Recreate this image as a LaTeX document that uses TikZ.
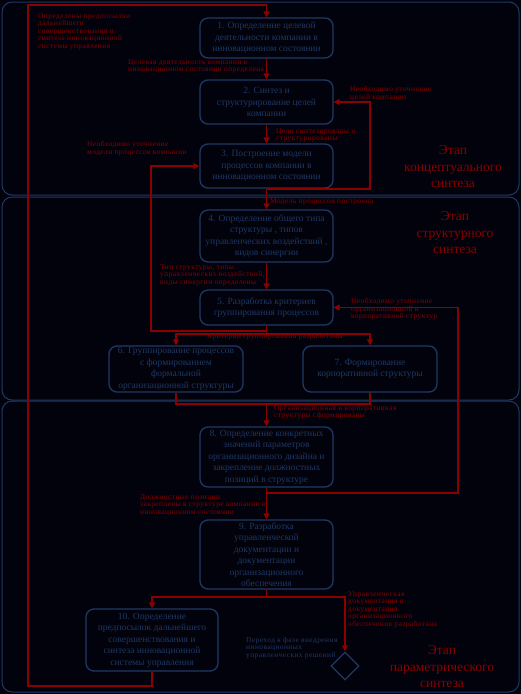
\documentclass[tikz,border=0pt]{standalone}
\usepackage{fontspec}
\setmainfont{Liberation Serif}
\newfontfamily\lblfont[LetterSpace=6]{Liberation Serif}
\usetikzlibrary{arrows.meta,shapes.geometric}
\definecolor{bg}{RGB}{2,2,12}
\definecolor{navy}{RGB}{31,56,100}
\definecolor{dred}{RGB}{139,0,0}
\begin{document}
\begin{tikzpicture}[x=1pt,y=-1pt,
  box/.style={draw=navy, line width=1.3pt, rounded corners=8pt, text=navy,
    font=\fontsize{9.5}{11.5}\selectfont, align=center, inner sep=1pt},
  lbl/.style={text=dred, font=\lblfont\fontsize{7.4}{7.6}\selectfont, align=left,
    anchor=north west, inner sep=0pt},
  stage/.style={text=dred, font=\fontsize{13.5}{16.5}\selectfont, align=center, inner sep=0pt},
  frame/.style={draw=navy, line width=1pt, rounded corners=10pt},
  conn/.style={draw=dred, line width=1.4pt},
  arr/.style={conn, -{Triangle[width=6pt,length=6pt]}}]
\useasboundingbox (0,0) rectangle (521,694);
\fill[bg] (0,0) rectangle (521,694);
% stage frames
\draw[frame] (2,2) rectangle (519,195);
\draw[frame] (2,197) rectangle (519,400);
\draw[frame] (2,401) rectangle (519,692);
% stage labels
\node[stage] (s1) at (453,167) {Этап\\концептуального\\синтеза};
\node[stage] (s2) at (455,233) {Этап\\структурного\\синтеза};
\node[stage] (s3) at (442,667) {Этап\\параметрического\\синтеза};
% boxes
\node[box, minimum width=133pt, minimum height=40pt] (b1) at (266.5,38)
  {1. Определение целевой\\деятельности компании в\\инновационном состоянии};
\node[box, minimum width=133pt, minimum height=44pt] (b2) at (266.5,102)
  {2. Синтез и\\структурирование целей\\компании};
\node[box, minimum width=133pt, minimum height=44pt] (b3) at (266.5,166)
  {3. Построение модели\\процессов компании в\\инновационном состоянии};
\node[box, minimum width=133pt, minimum height=52pt] (b4) at (266.5,236)
  {4. Определение общего типа\\структуры , типов\\управленческих воздействий ,\\видов синергии};
\node[box, minimum width=133pt, minimum height=35pt] (b5) at (266.5,307.5)
  {5. Разработка критериев\\группирования процессов};
\node[box, minimum width=134pt, minimum height=46pt] (b6) at (176,369)
  {6. Группирование процессов\\с формированием\\формальной\\организационной структуры};
\node[box, minimum width=134pt, minimum height=46pt] (b7) at (370,369)
  {7. Формирование\\корпоративной структуры};
\node[box, minimum width=133pt, minimum height=60pt] (b8) at (266.5,457)
  {8. Определение конкретных\\значений параметров\\организационного дизайна и\\закрепление должностных\\позиций в структуре};
\node[box, minimum width=133pt, minimum height=69pt] (b9) at (266.5,554.5)
  {9. Разработка\\управленческой\\документации и\\документации\\организационного\\обеспечения};
\node[box, minimum width=132pt, minimum height=62pt] (b10) at (152,640)
  {10. Определение\\предпосылок дальнейшего\\совершенствования и\\синтеза инновационной\\системы управления};
\node[draw=navy, line width=1.3pt, diamond, minimum width=28pt, minimum height=28pt, inner sep=0pt] (dia) at (345,666) {};
% junction coordinates
\coordinate (j3) at (266.5,189);
\coordinate (j5a) at (266.5,331);
\coordinate (j5b) at (266.5,334);
\coordinate (j7) at (266.5,404);
\coordinate (j8) at (266.5,493);
\coordinate (j9) at (266.5,597);
\coordinate (c10) at (152,686);
\coordinate (cbl) at (28,686);
\coordinate (ctl) at (28,5);
\coordinate (r3) at (370,189);
\coordinate (l5) at (151,331);
\coordinate (r8) at (458,493);
\coordinate (m6) at (176,404);
\coordinate (m7) at (370,404);
% connectors
\draw[arr] (b1) -- (b2);
\draw[arr] (b2) -- (b3);
\draw[arr] (b3) -- (b4);
\draw[arr] (j3) -- (r3) |- (b2.east);
\draw[arr] (b4) -- (b5);
\draw[conn] (b5.south) -- (j5b);
\draw[arr] (j5b) -| (b6.north);
\draw[arr] (j5b) -| (b7.north);
\draw[arr] (j5a) -- (l5) |- (b3.west);
\draw[conn] (b6.south) -- (m6) -- (m7) -- (b7.south);
\draw[arr] (j7) -- (b8.north);
\draw[arr] (b8) -- (b9);
\draw[arr] (j8) -- (r8) |- (b5.east);
\draw[conn] (b9.south) -- (j9);
\draw[arr] (j9) -| (b10.north);
\draw[arr] (j9) -| (dia.north);
\draw[arr] (b10.south) -- (c10) -- (cbl) -- (ctl) -| (b1.north);
% labels
\node[lbl] (t0) at (38,13) {Определены предпосылки\\дальнейшего\\совершенствования и\\синтеза инновационной\\системы управления};
\node[lbl] (t1) at (128,59) {Целевая деятельность компании в\\инновационном состоянии определена};
\node[lbl] (t2) at (350,86) {Необходимо уточнение\\целей компании};
\node[lbl] (t3) at (276,128) {Цели синтезированы и\\структурированы};
\node[lbl] (t4) at (87,141) {Необходимо уточнение\\модели процессов компании};
\node[lbl] (t5) at (270,198) {Модель процессов построена};
\node[lbl] (t6) at (160,264) {Тип структуры, типы\\управленческих воздействий,\\виды синергии определены};
\node[lbl] (t7) at (351,298) {Необходимо уточнение\\организационной и\\корпоративной структур};
\node[lbl] (t8) at (207,333) {Критерии группирования разработаны};
\node[lbl] (t9) at (274,405) {Организационная и корпоративная\\структуры сформированы};
\node[lbl] (t10) at (140,494) {Должностные позиции\\закреплены в структуре компании в\\инновационном состоянии};
\node[lbl] (t11) at (348,591) {Управленческая\\документация и\\документация\\организационного\\обеспечения разработана};
\node[lbl, text=navy] (t12) at (246,637) {Переход к фазе внедрения\\инновационных\\управленческих решений};
\end{tikzpicture}
\end{document}
